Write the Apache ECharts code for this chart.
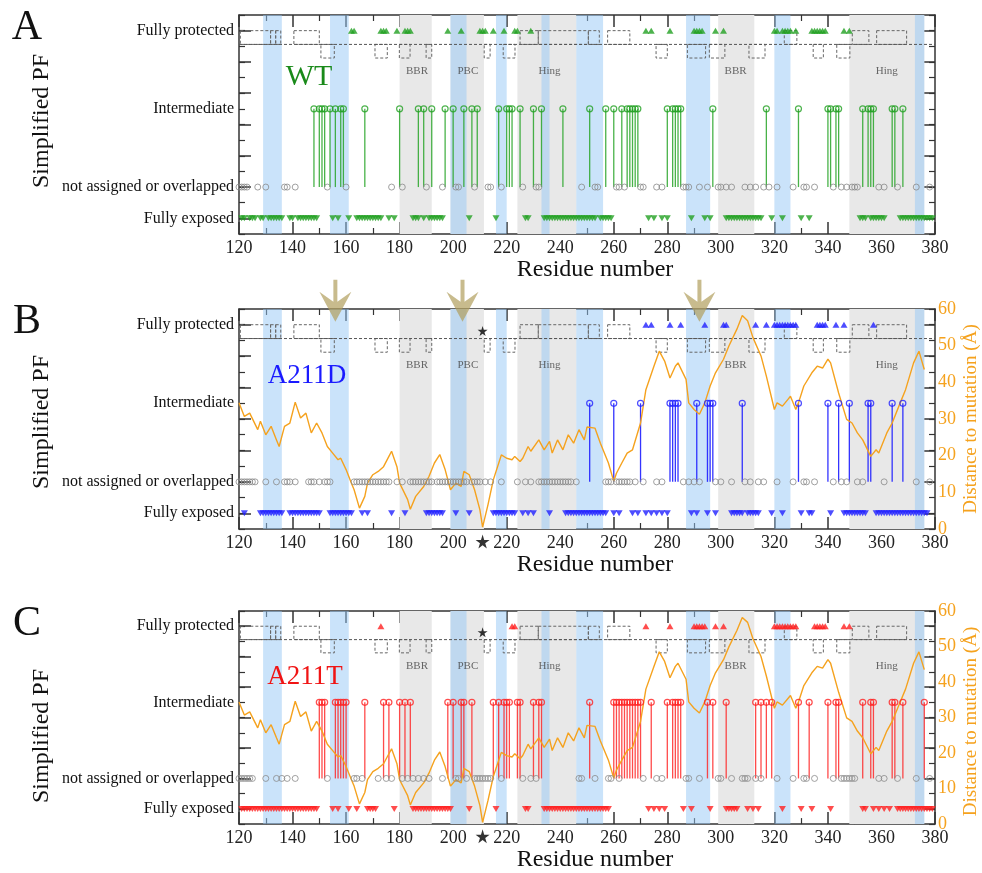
<!DOCTYPE html>
<html><head><meta charset="utf-8">
<script src="https://cdn.jsdelivr.net/npm/echarts@6/dist/echarts.min.js"></script>
<style>html,body{margin:0;padding:0;background:#fff}#c{width:982px;height:873px}</style>
</head><body><div id="c"></div>
<script>
const FONT = '"Liberation Serif", "DejaVu Serif", serif';

// ---- PF category axis ----
const pfTickValues = [0, 2, 7, 12];
const pfTickLabels = ['Fully exposed', 'not assigned or overlapped', 'Intermediate', 'Fully protected'];
const pfMajorTicks = [0, 2, 4, 6, 8, 10, 12];
const LEVEL_EXPOSED = 0, LEVEL_NA = 2, LEVEL_INTER = 7, LEVEL_PROT = 12;

// ---- shaded regions (residue ranges) ----
const grayBands = [[180,192],[199,211.5],[224,246],[299,312.5],[348,376]];
const blueBands = [[129,136],[154,161],[199,205],[216,220],[233,236],[246,256],[287,296],[320,326],[372.5,376]];
// secondary-structure boxes
const upperBoxes = [[120.5,131.8],[131.8,133.7],[133.7,135.6],[140.5,150],[225,231.8],[231.8,250.5],[250.5,254.6],[257.7,266],[323.7,328.4],[349.1,355.3],[358.2,369.4]];
const lowerBoxes = [[150.6,155.6],[170.8,175.4],[179.9,183.9],[189.9,192],[211.6,213.8],[218.7,223.1],[275.8,280],[287.5,294.3],[295.7,301.5],[310.5,316.5],[334.5,338.3],[343.3,348.2]];
const regionNames = ['BBR','PBC','Hing','BBR','Hing'];
const regionPos = [186.5,205.5,236,305.5,362];

// ---- distance to mutation (Å) ----
const distRes = [120,122,124,127,128,130,132,134,135,137,139,141,143,145,147,149,151,153,155,157,158,160,162,163,165,167,168,170,172,174,176,177,179,180,183,184,186,189,191,193,195,197,199,201,203,204,206,208,210,211,213,215,218,220,222,223,225,226,228,229,232,234,236,237,239,241,243,245,247,249,250,253,255,258,260,261,263,265,267,270,272,275,277,279,281,283,284,287,288,290,292,294,296,298,301,303,306,308,310,312,315,317,320,321,323,325,326,328,329,331,334,336,338,340,341,344,347,349,351,353,356,358,359,362,364,367,369,372,374,376];
const distVal = [34.4,30.7,31.6,27.1,29.4,25.7,28,24.3,22.5,28,28.9,34.6,30.3,31.6,26.2,28.9,26.2,22.5,20.7,18.9,19.3,16.2,12.5,10.7,5.7,8.9,12.5,14.8,15.7,17,19.8,21.2,17,12.5,8,5.4,8.9,11.6,14.4,18,20.3,16.2,10.7,12.5,11.6,15.7,14.8,10.7,5.2,0.5,6.6,13.4,20.2,19.3,18.9,19.8,18.4,19.3,22.5,21.2,24.3,21.6,23.9,20.7,24.3,21.6,25.7,23.4,27.1,24.3,27.8,27.5,23.4,18,13,15.2,18,20.7,21.6,28.9,38,44.4,48.5,45.8,41.2,44.4,45.3,40.8,34.4,32.6,31.3,34.4,39,42.6,46.3,49.9,54.5,58.2,56.8,52.2,47.2,41.7,32.6,34.4,33.5,35.3,36.2,32.6,34.4,39,42.6,44.4,43.9,46.3,45.3,37.1,29.9,28.9,26.2,24.3,19.8,21.6,20.7,26.2,28.9,34.4,38,45.3,48.5,43.5];

// ---- WT ----
const wtProtected = [162,163,173,174,175,179,182,183,184,198,203,210,211,212,215,219,223,224,229,272,274,281,290,291,292,293,298,301,320,321,323,324,325,326,328,334,335,336,337,338,339,346,348];
const wtIntermediate = [148,150,151,152,154,156,158,159,167,180,187,189,192,197,200,204,207,209,217,220,221,222,225,230,233,241,251,257,260,263,265,266,267,268,269,280,282,283,284,285,297,317,329,340,341,343,344,353,355,356,357,364,365,368];
const wtUnassigned = [120,121,122,123,127,130,137,138,141,153,160,177,181,190,196,201,202,208,213,214,218,226,231,232,248,253,254,261,262,264,270,271,276,278,286,287,288,292,295,299,300,302,304,309,311,313,316,318,321,327,331,332,335,342,345,347,349,350,351,359,361,366,373,378];
const wtExposed = [121,122,124,125,126,128,129,131,132,133,134,135,136,139,140,142,143,144,145,146,147,148,149,155,157,161,164,165,166,167,168,169,170,171,172,173,176,178,185,186,187,189,191,192,193,194,195,196,206,216,227,228,234,235,236,237,238,239,240,241,242,243,244,245,246,247,248,249,250,251,252,253,255,256,257,258,259,273,275,278,280,289,294,296,302,303,304,305,306,307,308,309,310,311,312,313,314,315,319,323,330,333,352,353,354,356,357,358,359,360,361,367,368,369,370,371,372,373,374,375,376,377,378,379];

// ---- A211D ----
const mdProtected = [272,274,281,285,294,301,302,313,317,320,321,322,323,324,325,326,327,328,336,337,338,339,343,346,357];
const mdIntermediate = [251,260,270,281,282,283,284,291,295,296,297,308,329,340,344,348,355,356,364,368];
const mdUnassigned = [120,121,122,123,124,125,126,130,134,137,138,139,141,146,147,148,150,152,153,154,163,164,165,166,167,168,169,170,171,172,173,174,175,176,179,181,184,185,186,187,188,189,190,191,192,194,195,196,197,198,199,200,201,202,203,204,205,207,208,209,210,212,214,218,224,227,229,232,233,234,235,236,237,238,239,240,241,242,243,244,246,257,258,259,261,262,263,264,265,266,268,271,276,278,286,288,290,292,298,300,304,309,311,314,316,321,327,331,332,335,342,345,347,351,353,361,373,378];
const mdExposed = [122,128,129,130,131,132,133,134,135,136,139,140,141,142,143,144,145,146,147,148,149,150,154,155,156,157,158,159,160,161,162,166,168,177,182,190,191,192,193,194,195,196,201,206,215,216,217,218,219,220,221,222,223,226,228,230,236,242,243,244,245,246,247,248,249,250,251,252,253,254,255,256,257,260,262,267,269,272,274,276,278,280,289,291,295,298,304,305,306,307,308,310,311,312,313,314,319,323,330,333,334,341,346,347,348,349,350,351,352,353,354,358,359,360,361,362,363,364,365,366,367,368,369,370,371,372,373,374,375,376,377];

// ---- A211T ----
const mtProtected = [173,222,223,272,281,290,291,292,293,294,298,301,320,321,322,323,324,325,326,327,328,335,336,337,338,339,346,348];
const mtIntermediate = [150,151,152,156,157,158,159,160,167,174,176,180,182,184,198,200,203,204,207,215,217,219,220,221,224,225,230,232,233,251,260,261,262,263,264,265,266,267,268,269,270,274,280,282,283,284,285,295,297,302,313,315,317,319,329,333,340,343,344,353,356,357,364,365,368,376];
const mtUnassigned = [120,121,122,123,124,125,130,134,136,138,141,153,163,164,166,172,175,177,181,183,185,187,189,191,196,201,202,205,208,209,210,211,212,213,214,218,226,229,231,247,248,253,258,259,262,271,276,278,287,288,292,299,300,304,308,309,310,313,315,321,327,331,332,335,342,345,346,347,348,349,350,359,361,366,373,378];
const mtExposed = [121,122,123,124,125,126,127,128,129,130,131,132,133,134,135,136,137,138,139,140,141,142,143,144,145,146,147,148,149,155,157,161,164,168,169,170,171,178,185,186,187,188,189,190,191,192,193,194,195,196,197,198,199,206,216,227,228,234,235,236,237,238,239,240,241,242,243,244,245,246,247,248,249,250,251,252,253,254,255,256,257,258,273,275,277,279,286,289,296,302,303,304,305,306,310,312,314,323,330,334,341,353,354,357,359,361,363,366,367,368,369,370,371,372,373,374,375,376,377,378,379];

const mutationSite = 211;
const arrowResidues = [156, 203.5, 292];

const panels = [
  {letter:'A', label:'WT', top:15, height:219, nameGap:22, prot:wtProtected, inter:wtIntermediate, na:wtUnassigned, exp:wtExposed,
   color:'#22a022', stem:'rgba(40,165,40,0.85)', labelColor:'#1a8a1a', labelFont:30, labelPos:[309,77], pfPos:[42,121], dist:false},
  {letter:'B', label:'A211D', top:309, height:220, nameGap:19, prot:mdProtected, inter:mdIntermediate, na:mdUnassigned, exp:mdExposed,
   color:'#2020ff', stem:'rgba(30,30,255,0.9)', labelColor:'#1a1aff', labelFont:27, labelPos:[307,376], pfPos:[42,422], dist:true, arrows:true},
  {letter:'C', label:'A211T', top:611, height:221, nameGap:16, prot:mtProtected, inter:mtIntermediate, na:mtUnassigned, exp:mtExposed,
   color:'#ff2020', stem:'rgba(255,30,30,0.8)', labelColor:'#f01414', labelFont:27, labelPos:[305,677], pfPos:[42,736], dist:true}
];

const AX = '#333';
const ORANGE = '#f5a21e';
const option = {animation:false, backgroundColor:'#fff', grid:[], xAxis:[], yAxis:[], series:[], graphic:[]};

function bandRender(color){
  return function(params, api){
    const p0 = api.coord([api.value(0), 13]);
    const p1 = api.coord([api.value(1), -1]);
    return {type:'rect', shape:{x:p0[0], y:p0[1], width:p1[0]-p0[0], height:p1[1]-p0[1]}, style:{fill:color}};
  };
}
function boxRender(y0, y1){
  return function(params, api){
    const p0 = api.coord([api.value(0), y1]);
    const p1 = api.coord([api.value(1), y0]);
    return {type:'rect', shape:{x:p0[0], y:p0[1], width:p1[0]-p0[0], height:p1[1]-p0[1]},
      style:{fill:'none', stroke:'#666', lineWidth:1, lineDash:[3,2]}};
  };
}
function stemRender(color){
  return function(params, api){
    const a = api.coord([api.value(0), LEVEL_NA]);
    const b = api.coord([api.value(0), LEVEL_INTER]);
    return {type:'line', shape:{x1:a[0], y1:a[1], x2:b[0], y2:b[1]}, style:{stroke:color, lineWidth:1.3}};
  };
}
const STAR = 'path://M50,0 L61,35 L98,35 L68,57 L79,91 L50,70 L21,91 L32,57 L2,35 L39,35 Z';
const ARROW = 'path://M14,0 L18,0 L18,22 L32,12 L16,42 L0,12 L14,22 Z';

panels.forEach((p, i) => {
  option.grid.push({left:239, right:47, top:p.top, height:p.height});
  const xb = option.xAxis.length;
  const xCommon = {type:'value', gridIndex:i, min:120, max:380, interval:20,
    axisLine:{show:true, onZero:false, lineStyle:{color:AX, width:1.5}},
    axisTick:{show:true, inside:true, length:12, lineStyle:{color:AX, width:1.5}},
    minorTick:{show:true, splitNumber:2, length:6, lineStyle:{color:AX, width:1.2}},
    splitLine:{show:false}, minorSplitLine:{show:false}};
  option.xAxis.push(Object.assign({}, xCommon, {position:'bottom',
    axisLabel:{fontFamily:FONT, fontSize:18, color:'#222', margin:5},
    name:'Residue number', nameLocation:'middle', nameGap:p.nameGap,
    nameTextStyle:{fontFamily:FONT, fontSize:24, color:'#111', padding:[0,0,0,16]}}));
  option.xAxis.push(Object.assign({}, xCommon, {position:'top', axisLabel:{show:false}}));

  const yMain = option.yAxis.length;
  const yCommon = {type:'value', gridIndex:i, min:-1, max:13, splitLine:{show:false}};
  option.yAxis.push(Object.assign({}, yCommon, {position:'left',
    axisLine:{show:true, onZero:false, lineStyle:{color:AX, width:1.5}},
    axisTick:{show:true, inside:true, length:12, customValues:pfMajorTicks, lineStyle:{color:AX, width:1.5}},
    axisLabel:{show:true, customValues:pfTickValues, margin:5, fontFamily:FONT, fontSize:16, color:'#111',
      formatter:v => pfTickLabels[pfTickValues.indexOf(v)] || ''}}));
  option.yAxis.push(Object.assign({}, yCommon, {position:'left', interval:1,
    axisLine:{show:false, onZero:false}, axisTick:{show:true, inside:true, length:6, lineStyle:{color:AX, width:1.2}}, axisLabel:{show:false}}));
  option.yAxis.push(Object.assign({}, yCommon, {position:'right',
    axisLine:{show:true, onZero:false, lineStyle:{color:AX, width:1.5}},
    axisTick:{show:true, inside:true, length:12, customValues:pfMajorTicks, lineStyle:{color:AX, width:1.5}},
    axisLabel:{show:false}}));
  option.yAxis.push(Object.assign({}, yCommon, {position:'right', interval:1,
    axisLine:{show:false, onZero:false}, axisTick:{show:true, inside:true, length:6, lineStyle:{color:AX, width:1.2}}, axisLabel:{show:false}}));
  let yDist = null;
  if (p.dist) {
    yDist = option.yAxis.length;
    option.yAxis.push({type:'value', gridIndex:i, position:'right', min:0, max:60, interval:10,
      axisLine:{show:false, onZero:false}, axisTick:{show:false}, splitLine:{show:false},
      axisLabel:{show:true, margin:3, fontFamily:FONT, fontSize:18, color:ORANGE}});
  }
  const ax = {xAxisIndex:xb, yAxisIndex:yMain};

  option.series.push(Object.assign({type:'custom', renderItem:bandRender('#e8e8e8'), data:grayBands, z:1, silent:true}, ax));
  option.series.push(Object.assign({type:'custom', renderItem:bandRender('rgba(150,200,245,0.5)'), data:blueBands, z:1, silent:true}, ax));
  option.series.push(Object.assign({type:'custom', renderItem:boxRender(11.12, 12.0), data:upperBoxes, z:2, silent:true}, ax));
  option.series.push(Object.assign({type:'custom', renderItem:boxRender(10.25, 11.12), data:lowerBoxes, z:2, silent:true}, ax));
  option.series.push(Object.assign({type:'line', data:[[120,11.12],[380,11.12]], showSymbol:false, z:2, silent:true,
    lineStyle:{color:'#555', width:1, type:[3,2]}}, ax));
  option.series.push(Object.assign({type:'scatter', symbolSize:0, z:3, silent:true,
    data:regionNames.map((n,k)=>({name:n, value:[regionPos[k], 9.4]})),
    label:{show:true, position:'inside', formatter:'{b}', fontFamily:FONT, fontSize:11, color:'#444'}}, ax));

  option.series.push(Object.assign({type:'custom', renderItem:stemRender(p.stem), data:p.inter.map(r=>[r, LEVEL_INTER]), z:4, silent:true}, ax));
  if (p.dist) {
    option.series.push({type:'line', xAxisIndex:xb, yAxisIndex:yDist, z:5, silent:true, showSymbol:false,
      data:distRes.map((r,k)=>[r, distVal[k]]), lineStyle:{color:ORANGE, width:1.4}});
  }
  option.series.push(Object.assign({type:'scatter', symbol:'circle', symbolSize:6, z:6, silent:true,
    data:p.na.map(r=>[r, LEVEL_NA]), itemStyle:{color:'rgba(255,255,255,0)', borderColor:'#8a8a8a', borderWidth:1}}, ax));
  option.series.push(Object.assign({type:'scatter', symbol:'circle', symbolSize:6, z:7, silent:true,
    data:p.inter.map(r=>[r, LEVEL_INTER]), itemStyle:{color:'rgba(255,255,255,0)', borderColor:p.color, borderWidth:1.2}}, ax));
  option.series.push(Object.assign({type:'scatter', symbol:'triangle', symbolSize:[7,6], z:7, silent:true,
    data:p.prot.map(r=>[r, LEVEL_PROT]), itemStyle:{color:p.color}}, ax));
  option.series.push(Object.assign({type:'scatter', symbol:'triangle', symbolRotate:180, symbolSize:[7,6], z:7, silent:true,
    data:p.exp.map(r=>[r, LEVEL_EXPOSED]), itemStyle:{color:p.color}}, ax));

  if (p.dist) {
    option.series.push(Object.assign({type:'scatter', symbol:STAR, symbolSize:10, z:8, clip:false, silent:true,
      data:[[mutationSite, 11.6]], itemStyle:{color:'#000'}}, ax));
    option.series.push(Object.assign({type:'scatter', symbol:STAR, symbolSize:14, z:8, clip:false, silent:true,
      data:[[mutationSite, -1.8]], itemStyle:{color:'#000'}}, ax));
  }
  if (p.arrows) {
    option.series.push(Object.assign({type:'scatter', symbol:ARROW, symbolSize:[32,42], z:9, clip:false, silent:true,
      data:arrowResidues.map(r=>[r, 13.53]), itemStyle:{color:'rgba(176,158,92,0.88)'}}, ax));
  }

  option.graphic.push({type:'text', z:100, x:27, y:p.top + 13, style:{text:p.letter, font:'42px ' + FONT, fill:'#111', align:'center', verticalAlign:'middle'}});
  option.graphic.push({type:'text', z:100, x:p.pfPos[0], y:p.pfPos[1], rotation:Math.PI/2,
    style:{text:'Simplified PF', font:'24px ' + FONT, fill:'#111', align:'center', verticalAlign:'middle'}});
  option.graphic.push({type:'text', z:100, x:p.labelPos[0], y:p.labelPos[1],
    style:{text:p.label, font:p.labelFont + 'px ' + FONT, fill:p.labelColor, align:'center', verticalAlign:'middle'}});
  if (p.dist) {
    option.graphic.push({type:'text', z:100, x:971, y:p.top + p.height/2, rotation:Math.PI/2,
      style:{text:'Distance to mutation (Å)', font:'19px ' + FONT, fill:ORANGE, align:'center', verticalAlign:'middle'}});
  }
});

const chart = echarts.init(document.getElementById('c'), null, {renderer:'canvas'});
chart.setOption(option);
</script>
</body></html>
